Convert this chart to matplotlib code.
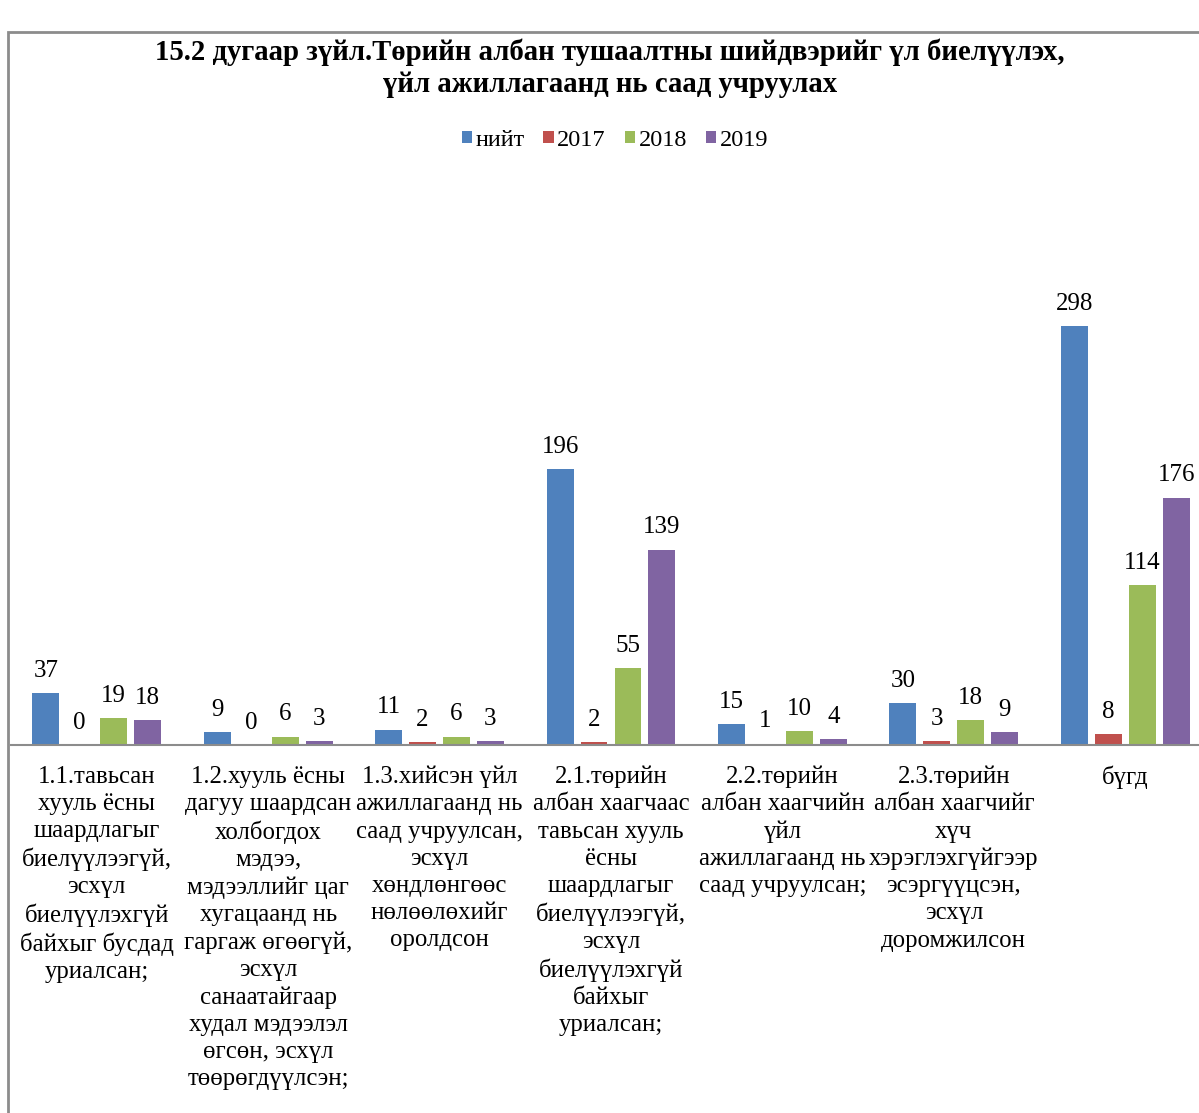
import numpy as np
import matplotlib
matplotlib.use("Agg")
import matplotlib.pyplot as plt
from matplotlib.patches import Rectangle

plt.rcParams['font.family'] = ['Liberation Serif', 'DejaVu Serif']

# data
categories = [
    "1.1.тавьсан\nхууль ёсны\nшаардлагыг\nбиелүүлээгүй,\nэсхүл\nбиелүүлэхгүй\nбайхыг бусдад\nуриалсан;",
    "1.2.хууль ёсны\nдагуу шаардсан\nхолбогдох\nмэдээ,\nмэдээллийг цаг\nхугацаанд нь\nгаргаж өгөөгүй,\nэсхүл\nсанаатайгаар\nхудал мэдээлэл\nөгсөн, эсхүл\nтөөрөгдүүлсэн;",
    "1.3.хийсэн үйл\nажиллагаанд нь\nсаад учруулсан,\nэсхүл\nхөндлөнгөөс\nнөлөөлөхийг\nоролдсон",
    "2.1.төрийн\nалбан хаагчаас\nтавьсан хууль\nёсны\nшаардлагыг\nбиелүүлээгүй,\nэсхүл\nбиелүүлэхгүй\nбайхыг\nуриалсан;",
    "2.2.төрийн\nалбан хаагчийн\nүйл\nажиллагаанд нь\nсаад учруулсан;",
    "2.3.төрийн\nалбан хаагчийг\nхүч\nхэрэглэхгүйгээр\nэсэргүүцсэн,\nэсхүл\nдоромжилсон",
    "бүгд",
]
series_names = ["нийт", "2017", "2018", "2019"]
niit = [37, 9, 11, 196, 15, 30, 298]
y2017 = [0, 0, 2, 2, 1, 3, 8]
y2018 = [19, 6, 6, 55, 10, 18, 114]
y2019 = [18, 3, 3, 139, 4, 9, 176]
colors = ["#4F81BD", "#C0504D", "#9BBB59", "#8064A2"]

W, H = 1199, 1113
fig = plt.figure(figsize=(W / 100, H / 100), dpi=100)

# outer chart frame (runs off right and bottom edges)
fig.patches.append(Rectangle((8 / W, -0.05), 1.1, (H - 32) / H + 0.05,
                             transform=fig.transFigure, fill=False,
                             edgecolor="#8C8C8C", linewidth=2))

ax_left, ax_right = 11, 1211
ax_bottom, ax_top = 745, 300
ax = fig.add_axes([ax_left / W, (H - ax_bottom) / H,
                   (ax_right - ax_left) / W, (ax_bottom - ax_top) / H])

x = np.arange(len(categories))
slot = 0.198
width = 0.157
for i, (name, vals) in enumerate(zip(series_names, [niit, y2017, y2018, y2019])):
    bars = ax.bar(x + (i - 1.5) * slot, vals, width, color=colors[i], label=name)
    ax.bar_label(bars, padding=8, fontsize=18)

ax.set_xlim(-0.5, len(categories) - 0.5)
ax.set_ylim(0, (ax_bottom - ax_top) / 1.406)
ax.set_xticks(x)
ax.set_xticklabels(categories, fontsize=17.8, linespacing=1.3)
ax.tick_params(axis='x', length=0, pad=15)
ax.set_yticks([])
for s in ["top", "right", "left"]:
    ax.spines[s].set_visible(False)
ax.spines["bottom"].set_color("#8C8C8C")
ax.spines["bottom"].set_linewidth(1.5)

fig.text(610 / W, 1 - 68.5 / H,
         "15.2 дугаар зүйл.Төрийн албан тушаалтны шийдвэрийг үл биелүүлэх,\n"
         "үйл ажиллагаанд нь саад учруулах",
         ha="center", va="center", fontsize=20.7, fontweight="bold", linespacing=1.22)

fig.legend(loc="center", bbox_to_anchor=(615 / W, 1 - 140 / H), ncol=4,
           frameon=False, fontsize=17.5, handlelength=0.42, handleheight=0.42,
           handletextpad=0.15, columnspacing=0.78)

fig.savefig("out.png", dpi=100)
